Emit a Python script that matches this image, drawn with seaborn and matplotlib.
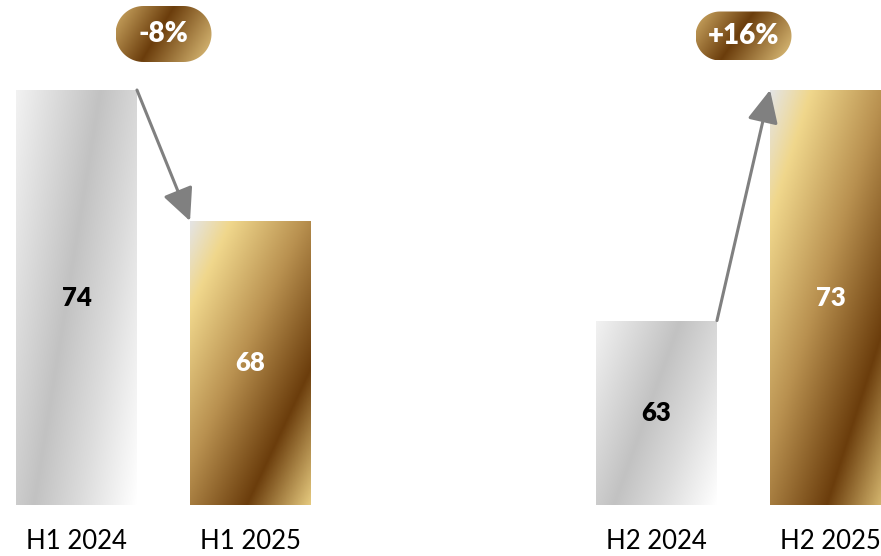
import numpy as np
import matplotlib
matplotlib.use("Agg")
import matplotlib.pyplot as plt
from matplotlib.colors import LinearSegmentedColormap
from matplotlib.patches import PathPatch
from matplotlib.path import Path
import seaborn as sns

# ---- data ----
categories = ["H1 2024", "H1 2025", "H2 2024", "H2 2025"]
values = [74, 68, 63, 73]
finishes = ["silver", "gold", "silver", "gold"]
change_labels = ["-8%", "+16%"]

sns.set_theme(style="white")
plt.rcParams["font.family"] = ["Lato", "DejaVu Sans"]

W, H = 881, 556
fig = plt.figure(figsize=(W / 100, H / 100), dpi=100)
fig.patch.set_facecolor("white")

silver_cmap = LinearSegmentedColormap.from_list(
    "silver", [(0, "#f2f2f2"), (0.45, "#c2c2c2"), (0.7, "#dcdcdc"), (1, "#ffffff")])
gold_cmap = LinearSegmentedColormap.from_list(
    "gold", [(0, "#e4e4e4"), (0.16, "#f0d78c"), (0.45, "#b99150"),
             (0.75, "#6b3d0c"), (1, "#e5c97e")])
pill_cmap = LinearSegmentedColormap.from_list(
    "pill", [(0, "#d0ac66"), (0.45, "#6b3d0c"), (1, "#e2c47e")])


def gradient(a, b, n=200):
    u = np.linspace(0, 1, n)[None, :]
    v = np.linspace(0, 1, n)[:, None]
    return (a * u + b * v) / (a + b)


def stadium_path(cx, cy, w, h, n=40):
    r = h / 2
    left_c, right_c = cx - w / 2 + r, cx + w / 2 - r
    a1 = np.linspace(-np.pi / 2, np.pi / 2, n)
    a2 = np.linspace(np.pi / 2, 3 * np.pi / 2, n)
    pts = np.vstack([
        np.column_stack([right_c + r * np.cos(a1), cy + r * np.sin(a1)]),
        np.column_stack([left_c + r * np.cos(a2), cy + r * np.sin(a2)]),
    ])
    pts = np.vstack([pts, pts[:1]])
    codes = [Path.MOVETO] + [Path.LINETO] * (len(pts) - 2) + [Path.CLOSEPOLY]
    return Path(pts, codes)


base = 55
bottom_px, top_px = 505, 90
ax_y0 = (H - bottom_px) / H
ax_h = (bottom_px - top_px) / H
bar_w = 0.695
unit_px = 174.0
panel_edges = [(0, 440), (440, 881)]
first_center_px = [76.5, 656.5]
pill_centers_y = [34, 36]
pill_heights = [56, 49]

overlay = fig.add_axes([0, 0, 1, 1], zorder=5)
overlay.set_xlim(0, W)
overlay.set_ylim(0, H)
overlay.set_autoscale_on(False)
overlay.axis("off")
overlay.patch.set_alpha(0)

for p in range(2):
    l, r = panel_edges[p]
    ax = fig.add_axes([l / W, ax_y0, (r - l) / W, ax_h])
    cats = categories[2 * p:2 * p + 2]
    vals = values[2 * p:2 * p + 2]
    fins = finishes[2 * p:2 * p + 2]
    sns.barplot(x=cats, y=vals, ax=ax, width=bar_w, color="white",
                saturation=1, edgecolor="none")
    ax.set_autoscale_on(False)
    c0 = first_center_px[p]
    ax.set_xlim((l - c0) / unit_px, (r - c0) / unit_px)
    ax.set_ylim(base, max(vals))

    for patch, v, fin in zip(ax.patches, vals, fins):
        patch.set_facecolor("none")
        x0 = patch.get_x()
        x1 = x0 + patch.get_width()
        if fin == "silver":
            img, cmap = gradient(1.0, 0.55), silver_cmap
        else:
            img, cmap = gradient(1.0, 1.1), gold_cmap
        im = ax.imshow(img, cmap=cmap, extent=(x0, x1, base, v), origin="upper",
                       aspect="auto", zorder=1, interpolation="bilinear")
        im.set_clip_path(patch)
        cx = x0 + patch.get_width() / 2
        ax.text(cx, (base + v) / 2, f"{v}", ha="center", va="center",
                fontsize=18.5, fontweight="heavy",
                color="black" if fin == "silver" else "white", zorder=3)

    # arrow between bar tops
    p0, p1 = ax.patches[0], ax.patches[1]
    start = (p0.get_x() + p0.get_width(), vals[0])
    end = (p1.get_x(), vals[1])
    ax.annotate("", xy=end, xytext=start,
                arrowprops=dict(arrowstyle="-|>,head_length=0.8,head_width=0.38",
                                color="#808080", lw=2.2, mutation_scale=25,
                                shrinkA=0, shrinkB=0),
                zorder=4, annotation_clip=False)

    ax.tick_params(axis="x", length=0, pad=17, labelsize=18.5, labelcolor="black")
    ax.set_yticks([])
    ax.set_xlabel("")
    ax.set_ylabel("")
    for s in ax.spines.values():
        s.set_visible(False)
    ax.patch.set_alpha(0)

    # change pill
    fig.canvas.draw()
    px, _ = ax.transData.transform((0.5, max(vals)))
    cx_pill = px
    cy_pill = H - pill_centers_y[p]
    pw, ph = 96, pill_heights[p]
    pill = PathPatch(stadium_path(cx_pill, cy_pill, pw, ph),
                     facecolor="none", edgecolor="none")
    overlay.add_patch(pill)
    pim = overlay.imshow(gradient(1.0, 0.35), cmap=pill_cmap,
                         extent=(cx_pill - pw / 2, cx_pill + pw / 2,
                                 cy_pill - ph / 2, cy_pill + ph / 2),
                         origin="upper", aspect="auto", interpolation="bilinear")
    pim.set_clip_path(pill)
    overlay.text(cx_pill, cy_pill, change_labels[p], ha="center", va="center",
                 color="white", fontsize=20, fontweight="heavy")

overlay.set_xlim(0, W)
overlay.set_ylim(0, H)
fig.savefig("out.png", dpi=100, facecolor="white")
